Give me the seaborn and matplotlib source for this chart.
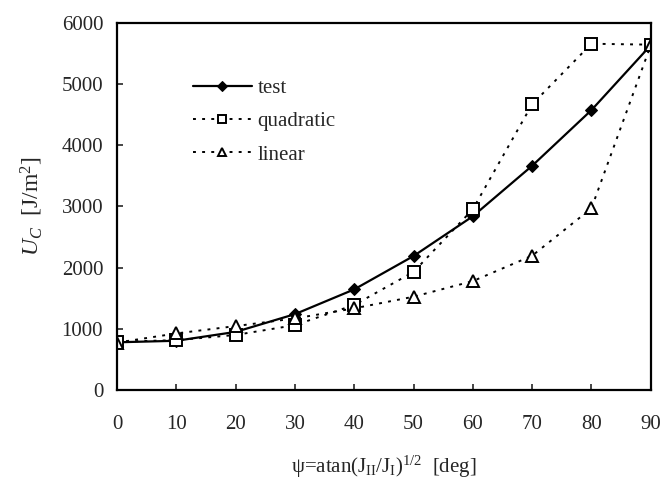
import numpy as np
import pandas as pd
import matplotlib
matplotlib.use("Agg")
import matplotlib.pyplot as plt
import seaborn as sns

# DATA
psi = [0, 10, 20, 30, 40, 50, 60, 70, 80, 90]
test = [780, 805, 950, 1240, 1645, 2190, 2840, 3665, 4575, 5635]
quadratic = [790, 815, 900, 1060, 1390, 1930, 2955, 4670, 5660, 5645]
linear = [775, 925, 1045, 1170, 1335, 1525, 1780, 2195, 2970, 5635]

sns.set_style("ticks")
plt.rcParams['font.family'] = ['Liberation Serif', 'DejaVu Serif']
plt.rcParams['mathtext.fontset'] = 'custom'
plt.rcParams['mathtext.rm'] = 'Liberation Serif'
plt.rcParams['mathtext.it'] = 'Liberation Serif:italic'

fig = plt.figure(figsize=(6.63, 4.83), dpi=100)
ax = fig.add_axes([0.1765, 0.1925, 0.805, 0.76])

dot = (0, (1.5, 3.2))
sns.lineplot(x=psi, y=test, ax=ax, color='black', lw=1.6, marker='D',
             markersize=6, markeredgecolor='black', label='test')
sns.lineplot(x=psi, y=quadratic, ax=ax, color='black', lw=1.4, linestyle=dot,
             marker='s', markersize=8, markerfacecolor='white',
             markeredgecolor='black', markeredgewidth=1.4, label='quadratic')
sns.lineplot(x=psi, y=linear, ax=ax, color='black', lw=1.4, linestyle=dot,
             marker='^', markersize=8, markerfacecolor='white',
             markeredgecolor='black', markeredgewidth=1.4, label='linear')

ax.set_xlim(0, 90)
ax.set_ylim(0, 6000)
ax.set_xticks(range(0, 91, 10))
ax.set_yticks(range(0, 6001, 1000))
ax.tick_params(direction='in', length=4, width=1.2, labelsize=15)
ax.tick_params(axis='x', pad=18)
ax.tick_params(axis='y', pad=10)
for s in ax.spines.values():
    s.set_linewidth(1.6)
    s.set_color('black')

ax.set_ylabel(r'$U_C$  [J/m$^2$]', fontsize=17, labelpad=12)
ax.set_xlabel(r'ψ=atan(J$_{\mathrm{II}}$/J$_{\mathrm{I}}$)$^{1/2}$  [deg]',
              fontsize=15, labelpad=14)

ax.legend(loc='upper left', bbox_to_anchor=(0.142, 0.848), frameon=False,
          fontsize=15, handlelength=2.85, handletextpad=0.25, labelspacing=0.65,
          borderpad=0, borderaxespad=0, markerscale=0.8)

fig.savefig("out.png", dpi=100)
